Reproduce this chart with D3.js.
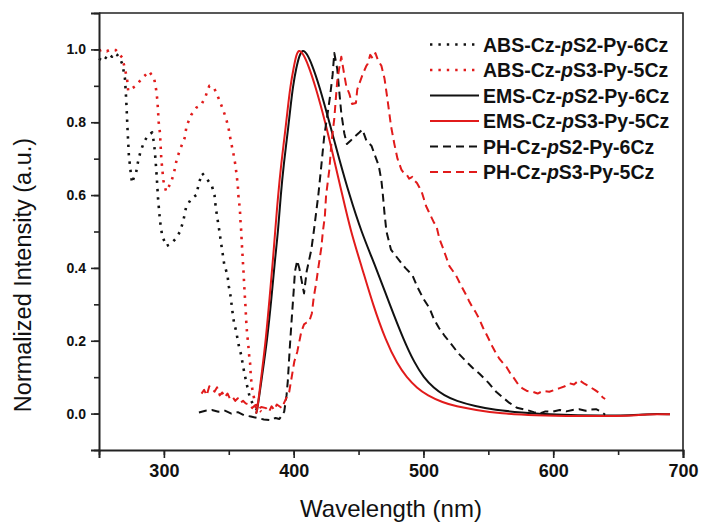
<!DOCTYPE html>
<html>
<head>
<meta charset="utf-8">
<script src="https://cdn.jsdelivr.net/npm/d3@7"></script>
<style>
  body { margin: 0; background: #fff; }
  svg { font-family: "Liberation Sans", Arial, sans-serif; }
</style>
</head>
<body>
<div id="container"></div>
<script>
// values: [wavelength (nm), normalized intensity]
let absS2 = [[250,0.975],[252,0.97],[254,0.98],[256,0.975],[258,0.985],[260,0.98],[262,0.99],[264,0.985],[266,0.975],[268,0.96],[270,0.92],[271,0.86],[272,0.78],[273,0.71],[274.5,0.66],[275.5,0.633],[277,0.65],[278.5,0.66],[280,0.69],[282,0.72],[285,0.748],[288,0.765],[291,0.772],[292.5,0.74],[293.5,0.70],[294.5,0.65],[295.5,0.59],[297,0.53],[298.6,0.49],[301.7,0.46],[305,0.465],[309,0.48],[312.5,0.50],[315,0.53],[317,0.565],[321,0.59],[325,0.60],[327,0.633],[329.5,0.66],[333,0.645],[337,0.625],[339,0.60],[340,0.565],[341.5,0.53],[342.6,0.505],[344,0.47],[346.5,0.41],[349,0.38],[350,0.35],[351.5,0.32],[352.6,0.286],[354,0.25],[355.7,0.226],[357.5,0.19],[359.6,0.16],[361,0.13],[362.7,0.10],[364.5,0.07],[366.5,0.04],[369.6,0.02],[373,0.005]]
let absS3 = [[250,0.996],[253,1.0],[256,0.995],[259,1.0],[263,0.998],[266,0.985],[268,0.977],[270,0.946],[271.6,0.92],[272.5,0.886],[274,0.89],[278.5,0.90],[283,0.92],[288.6,0.94],[292.5,0.92],[294,0.89],[295,0.86],[295.5,0.83],[296,0.80],[297,0.77],[297.5,0.735],[298,0.70],[298.8,0.67],[299.6,0.64],[301.7,0.61],[305.6,0.635],[308,0.665],[310,0.70],[313,0.73],[316,0.757],[317.5,0.79],[321,0.82],[325,0.84],[328.7,0.847],[332,0.87],[335,0.90],[338.7,0.894],[342,0.867],[345,0.84],[348,0.81],[350,0.78],[351.5,0.75],[353.5,0.715],[355,0.685],[356,0.657],[357,0.625],[357.5,0.594],[358.5,0.564],[359,0.53],[359.6,0.50],[360,0.47],[360.5,0.44],[361,0.41],[361.5,0.38],[362,0.345],[362.6,0.31],[363,0.286],[363.5,0.25],[364,0.225],[365,0.19],[365.7,0.16],[366.5,0.135],[367,0.10],[368,0.07],[369.6,0.04],[372,0.015],[375,0.005]]
let emsS2 = [[371,0.0],[372,0.01],[375.5,0.1],[379.5,0.2],[383,0.32],[385.5,0.42],[388,0.5],[390,0.6],[392.5,0.69],[395,0.76],[397.5,0.84],[399.5,0.9],[402,0.95],[404.5,0.985],[407,1.0],[410,0.99],[414,0.96],[419.8,0.9],[427.5,0.8],[435,0.7],[443,0.6],[452,0.5],[463.5,0.4],[474,0.3],[485,0.2],[493,0.14],[500,0.1],[508,0.07],[516,0.05],[525,0.035],[540,0.02],[555,0.01],[575,0.003],[600,-0.003],[640,-0.006],[660,-0.005],[670,-0.002],[680,-0.001],[690,-0.002]]
let emsS3 = [[371,0.0],[372,0.01],[375,0.1],[378.5,0.2],[381.5,0.32],[384,0.42],[385.5,0.49],[388,0.6],[390.5,0.69],[393,0.76],[395.5,0.84],[397.5,0.9],[400,0.95],[402,0.985],[404,1.0],[407,0.99],[411,0.96],[416.7,0.9],[424.4,0.8],[431,0.7],[437.5,0.6],[444,0.5],[452.7,0.4],[461,0.3],[471,0.2],[480,0.135],[487,0.1],[495,0.07],[503,0.05],[515,0.03],[525,0.02],[540,0.01],[560,0.0],[585,-0.005],[620,-0.007],[650,-0.007],[665,-0.005],[672,-0.002],[680,-0.002],[690,-0.002]]
let phS2 = [[327,0.003],[332,0.008],[337,0.01],[342,0.005],[347,0.008],[352,0.0],[357,0.004],[362,-0.005],[367,-0.008],[372,-0.012],[377,-0.016],[382,-0.018],[386,-0.012],[389,-0.015],[392.7,0.005],[394.5,0.05],[395.5,0.09],[397,0.18],[398.5,0.26],[400,0.336],[401,0.39],[402.7,0.42],[404.3,0.40],[405.9,0.37],[408,0.33],[410,0.39],[413.6,0.45],[415.5,0.50],[419,0.60],[421.3,0.68],[423.5,0.76],[426,0.82],[428,0.87],[430,0.93],[431.3,0.99],[433.6,0.946],[435,0.89],[436.7,0.825],[439,0.77],[441,0.74],[444,0.75],[446.8,0.76],[450.6,0.772],[453,0.78],[456,0.75],[460,0.735],[462,0.715],[465.6,0.68],[467.6,0.64],[468.5,0.61],[470,0.55],[471.5,0.50],[475,0.45],[481.5,0.42],[486,0.40],[491.5,0.38],[495,0.35],[500,0.315],[504.6,0.29],[508,0.26],[512,0.235],[516,0.215],[521.6,0.19],[527,0.165],[533,0.143],[538,0.125],[543,0.11],[550,0.085],[556,0.06],[561,0.045],[566,0.03],[572,0.016],[579.5,0.01],[585,0.004],[589.5,0.0],[594,0.006],[599.5,0.005],[605,0.01],[610,0.006],[615,0.01],[620,0.012],[625,0.008],[628,0.011],[633,0.012],[637,0.005],[640,-0.003]]
let phS3 = [[329,0.055],[331,0.065],[333,0.05],[335,0.075],[337,0.07],[339,0.06],[341,0.072],[343,0.05],[345,0.058],[347,0.045],[349,0.055],[351,0.04],[353,0.045],[355,0.035],[357,0.042],[359,0.03],[361,0.035],[363,0.028],[365.7,0.025],[368,0.015],[370,0.022],[372,0.01],[375,0.018],[378.8,0.015],[381,0.005],[383,0.02],[385,0.01],[387,0.025],[389,0.02],[391,0.015],[392.7,0.03],[394,0.04],[396.6,0.06],[398,0.09],[400.5,0.143],[402.8,0.17],[405.9,0.225],[408,0.245],[410,0.25],[412,0.253],[414,0.275],[415.5,0.32],[417.4,0.36],[419,0.40],[421.3,0.455],[422.5,0.5],[424,0.54],[425,0.60],[427.5,0.67],[429,0.74],[431.3,0.81],[432.5,0.865],[433.5,0.91],[435,0.946],[436.7,0.98],[439,0.93],[440.5,0.90],[443,0.877],[445,0.85],[448,0.853],[449,0.89],[453,0.93],[456,0.955],[457,0.96],[459,0.985],[461,0.975],[463,0.99],[465,0.97],[467.6,0.955],[470,0.92],[472,0.87],[473.7,0.825],[475,0.79],[477.6,0.74],[480,0.70],[483,0.67],[485,0.66],[487,0.657],[489,0.645],[491.5,0.65],[493,0.64],[495,0.633],[497,0.62],[499,0.605],[502,0.57],[504,0.555],[506,0.54],[508,0.525],[510,0.515],[512.3,0.48],[515,0.455],[518,0.425],[520,0.405],[522,0.395],[525,0.38],[527.8,0.36],[530,0.345],[533,0.325],[535,0.31],[538,0.29],[540,0.28],[543,0.26],[546,0.235],[548.6,0.217],[551,0.2],[553,0.185],[556,0.165],[558.6,0.15],[561,0.14],[564,0.128],[567,0.11],[570,0.096],[573,0.08],[576,0.07],[580,0.062],[584,0.06],[588,0.055],[592,0.062],[597,0.06],[601,0.065],[605,0.07],[609,0.075],[612.6,0.083],[616,0.08],[620,0.092],[624,0.082],[628,0.074],[632,0.065],[636,0.055],[638,0.045],[640,0.04]]

let seriesNames = ["ABS-Cz-pS2-Py-6Cz", "ABS-Cz-pS3-Py-5Cz", "EMS-Cz-pS2-Py-6Cz", "EMS-Cz-pS3-Py-5Cz", "PH-Cz-pS2-Py-6Cz", "PH-Cz-pS3-Py-5Cz"]
let xTicks = [300, 400, 500, 600, 700]
let yTicks = [0.0, 0.2, 0.4, 0.6, 0.8, 1.0]

let width = 702
let height = 522
let black = "#111"
let red = "#e11b1b"

let styles = [
    { data: absS2, color: black, dash: "2.4,6", smooth: false },
    { data: absS3, color: red, dash: "2.4,6", smooth: false },
    { data: emsS2, color: black, dash: null, smooth: true },
    { data: emsS3, color: red, dash: null, smooth: true },
    { data: phS2, color: black, dash: "8,5", smooth: false },
    { data: phS3, color: red, dash: "8,5", smooth: false }
]

let svg = d3.select('#container')
    .append('svg')
    .attr('width', width)
    .attr('height', height)

let x = d3.scaleLinear()
    .domain([250, 700])
    .range([99, 683])
let y = d3.scaleLinear()
    .domain([-0.1, 1.1])
    .range([450, 13])

// curves
styles.forEach(s => {
    let line = d3.line()
        .x(d => x(d[0]))
        .y(d => y(d[1]))
        .curve(s.smooth ? d3.curveBasis : d3.curveLinear)
    svg.append('path')
        .datum(s.data)
        .attr('d', line)
        .attr('fill', 'none')
        .attr('stroke', s.color)
        .attr('stroke-width', s.dash && s.dash.startsWith("2") ? 2.6 : 2)
        .attr('stroke-dasharray', s.dash)
        .attr('stroke-linejoin', 'round')
})

// frame on top and right
svg.append('path')
    .attr('d', `M${x(250)},${y(1.1)}H${x(700)}V${y(-0.1)}`)
    .attr('fill', 'none')
    .attr('stroke', '#222')
    .attr('stroke-width', 1.6)

// x axis, major + minor ticks pointing out
svg.append('g')
    .attr('transform', `translate(0,${y(-0.1)})`)
    .call(d3.axisBottom(x).tickValues(d3.range(250, 701, 50)).tickSize(5).tickFormat(''))
    .call(g => g.select('.domain').remove())
    .selectAll('line').attr('stroke-width', 1.6).attr('stroke', '#222')
svg.append('g')
    .attr('transform', `translate(0,${y(-0.1)})`)
    .call(d3.axisBottom(x).tickValues(xTicks).tickSize(8).tickPadding(6).tickFormat(d3.format('d')))
    .call(g => g.select('.domain').attr('stroke-width', 2).attr('stroke', '#222'))
    .call(g => g.selectAll('line').attr('stroke-width', 1.6).attr('stroke', '#222'))
    .call(g => g.selectAll('text')
        .attr('font-size', 18).attr('font-weight', 'bold').attr('fill', '#111')
        .attr('font-family', '"Liberation Sans", Arial, sans-serif'))

// y axis
svg.append('g')
    .attr('transform', `translate(${x(250)},0)`)
    .call(d3.axisLeft(y).tickValues(d3.range(-0.1, 1.11, 0.1)).tickSize(5).tickFormat(''))
    .call(g => g.select('.domain').remove())
    .selectAll('line').attr('stroke-width', 1.6).attr('stroke', '#222')
svg.append('g')
    .attr('transform', `translate(${x(250)},0)`)
    .call(d3.axisLeft(y).tickValues(yTicks).tickSize(8).tickPadding(5).tickFormat(d3.format('.1f')))
    .call(g => g.select('.domain').attr('stroke-width', 2).attr('stroke', '#222'))
    .call(g => g.selectAll('line').attr('stroke-width', 1.6).attr('stroke', '#222'))
    .call(g => g.selectAll('text')
        .attr('font-size', 14).attr('font-weight', 'bold').attr('fill', '#111')
        .attr('font-family', '"Liberation Sans", Arial, sans-serif'))

// axis titles
svg.append('text')
    .attr('x', 391)
    .attr('y', 517)
    .attr('text-anchor', 'middle')
    .attr('font-size', 24)
    .attr('fill', '#111')
    .text('Wavelength (nm)')
svg.append('text')
    .attr('transform', 'translate(31,275) rotate(-90)')
    .attr('text-anchor', 'middle')
    .attr('font-size', 23.5)
    .attr('fill', '#111')
    .text('Normalized Intensity (a.u.)')

// legend
let legend = svg.append('g')
seriesNames.forEach((name, i) => {
    let ly = 44.5 + i * 25.5
    let s = styles[i]
    legend.append('line')
        .attr('x1', 430).attr('x2', 479)
        .attr('y1', ly).attr('y2', ly)
        .attr('stroke', s.color)
        .attr('stroke-width', s.dash && s.dash.startsWith("2") ? 2.6 : 2.2)
        .attr('stroke-dasharray', s.dash)
    let parts = name.split('-p')
    let t = legend.append('text')
        .attr('x', 483)
        .attr('y', ly + 7)
        .attr('font-size', 19.5)
        .attr('font-weight', 'bold')
        .attr('fill', '#111')
    t.append('tspan').text(parts[0] + '-')
    t.append('tspan').attr('font-style', 'italic').text('p')
    t.append('tspan').text(parts[1])
})
</script>
</body>
</html>
